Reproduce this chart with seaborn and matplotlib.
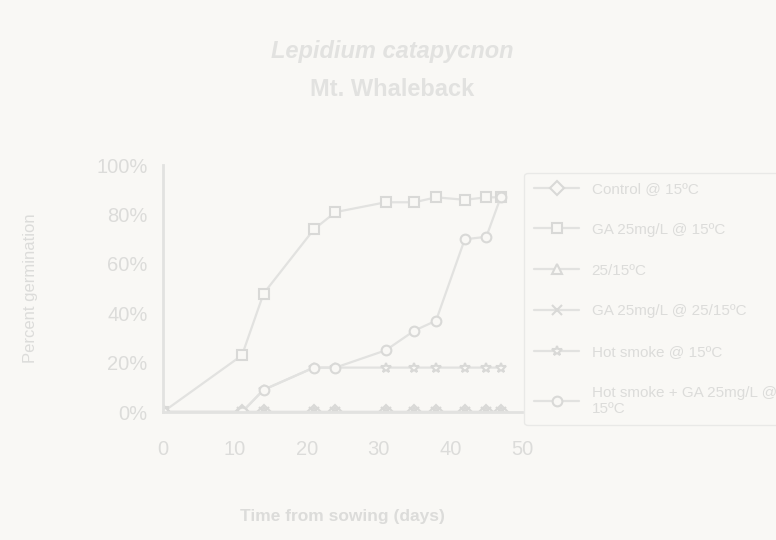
import numpy as np
import pandas as pd
import matplotlib.pyplot as plt
import seaborn as sns

days = [0, 11, 14, 21, 24, 31, 35, 38, 42, 45, 47]
series_names = ['Control @ 15ºC', 'GA 25mg/L @ 15ºC', '25/15ºC',
                'GA 25mg/L @ 25/15ºC', 'Hot smoke @ 15ºC',
                'Hot smoke + GA 25mg/L @\n15ºC']
control_15 = [0, 0, 0, 0, 0, 0, 0, 0, 0, 0, 0]
ga_15 = [0, 23, 48, 74, 81, 85, 85, 87, 86, 87, 87]
alt_25_15 = [0, 0, 0, 0, 0, 0, 0, 0, 0, 0, 0]
ga_25_15 = [0, 0, 0, 0, 0, 0, 0, 0, 0, 0, 0]
smoke_15 = [0, 0, 9, 18, 18, 18, 18, 18, 18, 18, 18]
smoke_ga_15 = [0, 0, 9, 18, 18, 25, 33, 37, 70, 71, 87]
markers = ['D', 's', '^', 'x', '*', 'o']

values = [control_15, ga_15, alt_25_15, ga_25_15, smoke_15, smoke_ga_15]
df = pd.concat([pd.DataFrame({'day': days, 'pct': v, 'treatment': n})
                for n, v in zip(series_names, values)])

bg = '#f9f8f5'
ink = '#dcdcda'
line_c = '#e2e2e0'

sns.set_style('white')
plt.rcParams['font.family'] = ['Liberation Sans', 'DejaVu Sans']
fig = plt.figure(figsize=(7.76, 5.4), dpi=100, facecolor=bg)
ax = fig.add_axes([0.21, 0.237, 0.463, 0.457], facecolor=bg)

for name, mk in zip(series_names, markers):
    sns.lineplot(data=df[df.treatment == name], x='day', y='pct', ax=ax,
                 color=line_c, marker=mk, markersize=7, markerfacecolor=bg,
                 markeredgecolor='#d9d9d7', markeredgewidth=1.5, lw=1.6,
                 label=name)

ax.set_xlim(0, 50)
ax.set_ylim(0, 100)
ax.set_xticks(range(0, 51, 10))
ax.set_yticks(range(0, 101, 20))
ax.set_yticklabels([f'{v}%' for v in range(0, 101, 20)])
ax.tick_params(axis='both', colors=ink, labelsize=14.5, length=5, width=1.5,
               labelcolor=ink, pad=6)
ax.tick_params(axis='x', length=0, pad=20)
for s in ['top', 'right']:
    ax.spines[s].set_visible(False)
for s in ['left', 'bottom']:
    ax.spines[s].set_color(line_c)
    ax.spines[s].set_linewidth(2)
ax.set_xlabel('Time from sowing (days)', color=ink, fontsize=12.5,
              fontweight='bold', labelpad=36)
ax.set_ylabel('Percent germination', color=ink, fontsize=12, labelpad=42)

leg = ax.legend(loc='upper left', bbox_to_anchor=(0.985, 1.0), frameon=True,
                fontsize=11, labelspacing=1.75, handlelength=3.0,
                borderpad=0.6, facecolor=bg, edgecolor='#e6e6e4')
for t in leg.get_texts():
    t.set_color(ink)

fig.text(0.505, 0.905, 'Lepidium catapycnon', ha='center', va='center',
         fontsize=17, fontweight='bold', style='italic', color='#e2e2e0')
fig.text(0.505, 0.835, 'Mt. Whaleback', ha='center', va='center',
         fontsize=17, fontweight='bold', color='#e2e2e0')

fig.savefig('out.png', dpi=100, facecolor=bg)
